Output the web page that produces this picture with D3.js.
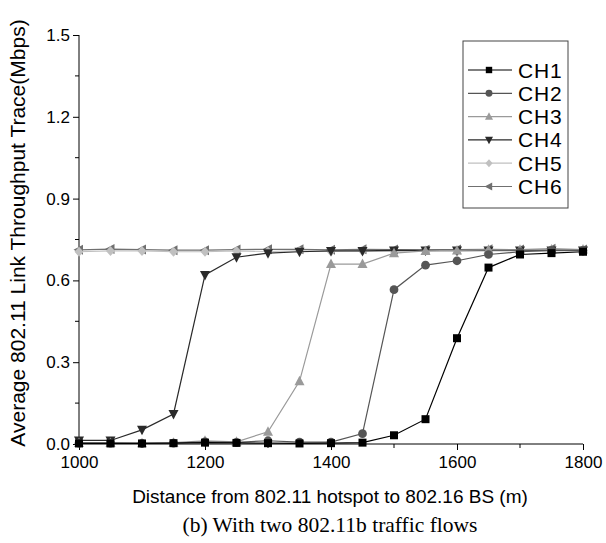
<!DOCTYPE html>
<html lang="en">
<head>
<meta charset="UTF-8">
<title>Link Throughput Trace</title>
<style>
    body{ margin:0; background:#fff; }
    text{ font-family: "Liberation Sans", Arial, sans-serif; }
    .axis path, .axis line{ stroke:#000; }
    .caption{ font-family: "Liberation Serif", "Times New Roman", serif; }
</style>
</head>
<body>
<svg width="606" height="543"></svg>
<script src="https://cdn.jsdelivr.net/npm/d3@7/dist/d3.min.js"></script>
<script>
// distances (m)
var distance = [1000,1050,1100,1150,1200,1250,1300,1350,1400,1450,1500,1550,1600,1650,1700,1750,1800];

var ch1 = [0.002,0.002,0.002,0.003,0.005,0.004,0.003,0.002,0.003,0.005,0.032,0.091,0.388,0.647,0.695,0.70,0.705];
var ch2 = [0.003,0.003,0.002,0.003,0.008,0.006,0.012,0.007,0.007,0.038,0.566,0.656,0.672,0.695,0.705,0.71,0.71];
var ch3 = [0.004,0.004,0.003,0.005,0.012,0.008,0.045,0.23,0.66,0.66,0.70,0.708,0.71,0.712,0.712,0.713,0.713];
var ch4 = [0.013,0.013,0.052,0.11,0.62,0.685,0.70,0.705,0.708,0.708,0.71,0.71,0.71,0.71,0.71,0.71,0.71];
var ch5 = [0.705,0.708,0.708,0.705,0.705,0.708,0.706,0.708,0.706,0.708,0.706,0.708,0.706,0.708,0.708,0.708,0.708];
var ch6 = [0.712,0.715,0.713,0.711,0.711,0.713,0.714,0.714,0.712,0.714,0.713,0.712,0.713,0.714,0.713,0.716,0.713];

var seriesNames = ["CH1","CH2","CH3","CH4","CH5","CH6"];
var seriesColors = ["#000000","#555555","#9a9a9a","#2a2a2a","#c0c0c0","#707070"];
var seriesSymbols = ["square","circle","up","down","diamond","left"];

var xTicks = [1000,1200,1400,1600,1800];
var yTicks = [0.0,0.3,0.6,0.9,1.2,1.5];

var series = [ch1,ch2,ch3,ch4,ch5,ch6].map(function(vals,i){
    return {name: seriesNames[i], color: seriesColors[i], symbol: seriesSymbols[i],
            values: vals.map(function(v,j){ return {x: distance[j], y: v}; })};
});

var svg = d3.select("svg");
var x = d3.scaleLinear().domain([1000,1800]).range([79,583]);
var y = d3.scaleLinear().domain([0,1.5]).range([444,35]);

// symbol path generator
function symbolPath(type){
    var s = 4.5;
    if(type=="square") return "M"+(-4)+","+(-4)+"h8v8h-8z";
    if(type=="circle") return d3.symbol().type(d3.symbolCircle).size(60)();
    if(type=="up") return "M0,"+(-s-1)+"L"+(s+0.5)+","+(s-0.5)+"L"+(-s-0.5)+","+(s-0.5)+"Z";
    if(type=="down") return "M0,"+(s+1)+"L"+(s+0.5)+","+(-s+0.5)+"L"+(-s-0.5)+","+(-s+0.5)+"Z";
    if(type=="diamond") return "M0,"+(-s-0.5)+"L"+(s)+",0L0,"+(s+0.5)+"L"+(-s)+",0Z";
    if(type=="left") return "M"+(-s-1)+",0L"+(s-0.5)+","+(-s-0.5)+"L"+(s-0.5)+","+(s+0.5)+"Z";
}

// axes: major ticks
var xAxis = svg.append("g").attr("class","axis")
    .attr("transform","translate(0,444)")
    .call(d3.axisBottom(x).tickValues(xTicks).tickSize(6).tickSizeOuter(0).tickPadding(6).tickFormat(d3.format("d")));
xAxis.select(".domain").attr("d","M79,0H583");
xAxis.selectAll("text").style("font-size","17px").attr("fill","#000");
xAxis.selectAll(".minor").data([1100,1300,1500,1700]).enter().append("line")
    .attr("class","minor").attr("stroke","#000")
    .attr("x1",function(d){return x(d);}).attr("x2",function(d){return x(d);})
    .attr("y1",0).attr("y2",4);

var yAxis = svg.append("g").attr("class","axis")
    .attr("transform","translate(79,0)")
    .call(d3.axisLeft(y).tickValues(yTicks).tickSize(6).tickSizeOuter(0).tickPadding(3).tickFormat(d3.format(".1f")));
yAxis.select(".domain").attr("d","M0,444V35");
yAxis.selectAll("text").style("font-size","17px").attr("fill","#000");
yAxis.selectAll(".minor").data([0.15,0.45,0.75,1.05,1.35]).enter().append("line")
    .attr("class","minor").attr("stroke","#000")
    .attr("y1",function(d){return y(d);}).attr("y2",function(d){return y(d);})
    .attr("x1",0).attr("x2",-4);

// lines + markers
var line = d3.line().x(function(d){return x(d.x);}).y(function(d){return y(d.y);});

var g = svg.append("g");
// draw in reverse so CH1 ends on top
series.slice().reverse().forEach(function(s){
    g.append("path").datum(s.values)
        .attr("d",line).attr("fill","none")
        .attr("stroke",s.color).attr("stroke-width",1.2);
    g.selectAll(null).data(s.values).enter().append("path")
        .attr("transform",function(d){return "translate("+x(d.x)+","+y(d.y)+")";})
        .attr("d",symbolPath(s.symbol))
        .attr("fill",s.color);
});

// legend
var legend = svg.append("g").attr("transform","translate(463,41)");
legend.append("rect").attr("width",105).attr("height",167)
    .attr("fill","#fff").attr("stroke","#444").attr("stroke-width",1);
var item = legend.selectAll(".item").data(series).enter().append("g")
    .attr("class","item")
    .attr("transform",function(d,i){return "translate(0,"+(29+i*23.3)+")";});
item.append("line").attr("x1",5).attr("x2",49).attr("y1",0).attr("y2",0)
    .attr("stroke",function(d){return d.color;}).attr("stroke-width",1.2);
item.append("path").attr("transform","translate(26,0) scale(0.8)")
    .attr("d",function(d){return symbolPath(d.symbol);})
    .attr("fill",function(d){return d.color;});
item.append("text").attr("x",55).attr("dy","0.36em")
    .style("font-size","21px").style("letter-spacing","0.8px").text(function(d){return d.name;});

// axis titles
svg.append("text").attr("x",330).attr("y",503).attr("text-anchor","middle")
    .style("font-size","19px").text("Distance from 802.11 hotspot to 802.16 BS (m)");
svg.append("text").attr("transform","translate(25,233) rotate(-90)").attr("text-anchor","middle")
    .style("font-size","21px").text("Average 802.11 Link Throughput Trace(Mbps)");
svg.append("text").attr("class","caption").attr("x",330).attr("y",532).attr("text-anchor","middle")
    .style("font-size","21.5px").text("(b) With two 802.11b traffic flows");
</script>
</body>
</html>
